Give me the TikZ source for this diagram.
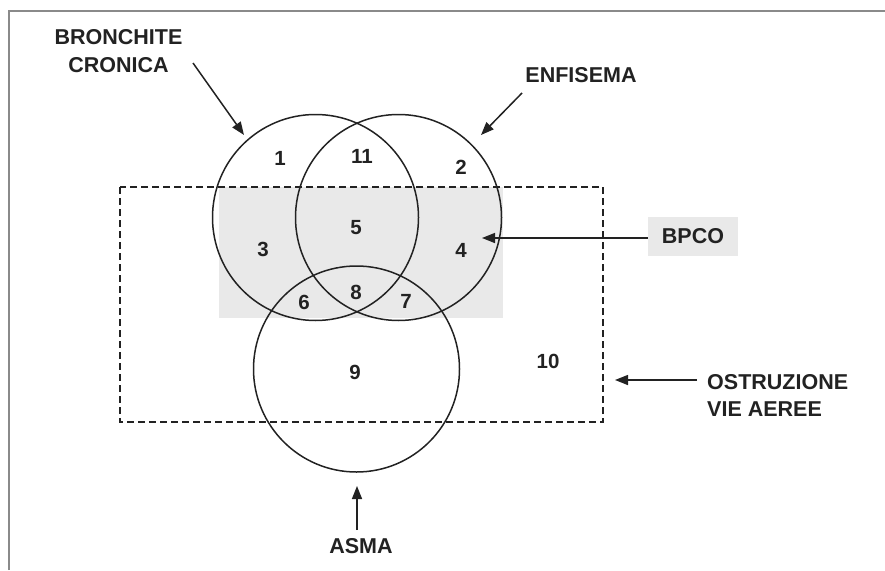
\documentclass[tikz,border=0pt]{standalone}
\usepackage{fontspec}
\setmainfont{Liberation Sans}
\usetikzlibrary{arrows.meta}
\definecolor{ink}{HTML}{222222}
\definecolor{framegray}{HTML}{8A8A8A}
\definecolor{zonegray}{HTML}{E9E9E9}
\begin{document}
\begin{tikzpicture}[x=1pt,y=-1pt,
  setcircle/.style={circle,draw=ink,line width=1.5pt,minimum size=206pt,inner sep=0pt},
  numlabel/.style={font=\fontsize{20.5}{24}\selectfont\bfseries,text=ink,inner sep=0pt},
  biglabel/.style={font=\fontsize{21.5}{27.5}\selectfont\bfseries,text=ink,inner sep=0pt,align=center},
  pointer/.style={draw=ink,line width=1.5pt,-{Triangle[length=13pt,width=10pt]}}]
\useasboundingbox (0,0) rectangle (885,570);
% open frame along the top and left edges
\draw[framegray,line width=2pt] (9,570) -- (9,11) -- (885,11);
% shaded BPCO zone and dashed airway obstruction box
\fill[zonegray] (219,187) rectangle (503,318);
\draw[ink,line width=1.4pt,dash pattern=on 7pt off 4pt] (120,187) rectangle (603,422);
% the three sets
\node[setcircle] (bc) at (315.5,217.5) {};
\node[setcircle] (enf) at (398.5,217.5) {};
\node[setcircle] (asm) at (356.5,369) {};
% region numbers
\node[numlabel] (n1) at (280,158) {1};
\node[numlabel] (n11) at (362,156) {11};
\node[numlabel] (n2) at (461,167) {2};
\node[numlabel] (n3) at (263,249) {3};
\node[numlabel] (n5) at (356,228) {5};
\node[numlabel] (n4) at (461,250) {4};
\node[numlabel] (n6) at (304,302) {6};
\node[numlabel] (n8) at (356,292) {8};
\node[numlabel] (n7) at (406,301) {7};
\node[numlabel] (n9) at (355,372) {9};
\node[numlabel] (n10) at (548,361) {10};
% labels
\node[biglabel] (bclab) at (118.5,51) {BRONCHITE\\CRONICA};
\node[biglabel] (enflab) at (581,75) {ENFISEMA};
\node[biglabel,fill=zonegray,minimum width=90pt,minimum height=39pt] (bpco) at (693,236.5) {BPCO};
\node[biglabel,anchor=west,align=left] (ostr) at (707,395.5) {OSTRUZIONE\\VIE AEREE};
\node[biglabel] (asma) at (361,546) {ASMA};
% arrow ends
\coordinate (bctail) at (193,63);
\coordinate (bchead) at (244,135);
\coordinate (enftail) at (522,93);
\coordinate (enfhead) at (481,135);
\coordinate (bpcohead) at (482,238);
\coordinate (ostrhead) at (615,380);
\coordinate (asmahead) at (357,486);
% pointers
\draw[pointer] (bctail) -- (bchead);
\draw[pointer] (enftail) -- (enfhead);
\draw[pointer] (bpco.west |- bpcohead) -- (bpcohead);
\draw[pointer,shorten <=10pt] (ostr.west |- ostrhead) -- (ostrhead);
\draw[pointer,shorten <=8pt] (asma.north -| asmahead) -- (asmahead);
\end{tikzpicture}
\end{document}
